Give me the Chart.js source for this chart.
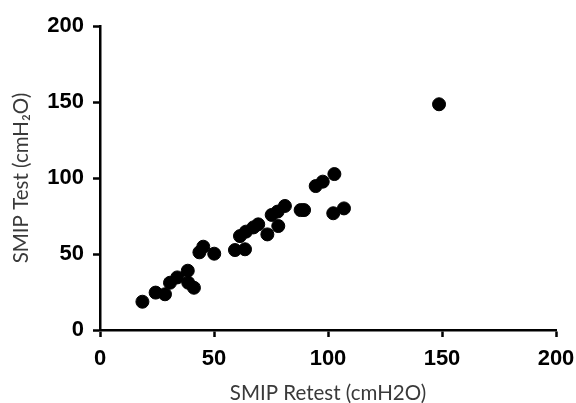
<!DOCTYPE html>
<html lang="en">
<head>
  <meta charset="UTF-8">
  <title>SMIP Test vs Retest</title>
  <script src="https://cdn.jsdelivr.net/npm/chart.js"></script>
  <style>
    html, body { margin: 0; padding: 0; background: #fff; }
    #wrap { width: 576px; height: 403px; }
  </style>
</head>
<body>
  <div id="wrap"><canvas id="smipChart" width="576" height="403"></canvas></div>
  <script>
    // values (cmH2O)
    const retestValues = [18.6, 24.4, 28.5, 30.7, 33.9, 38.5, 38.7, 41.2, 43.6, 45.3,
                          50.1, 59.2, 63.6, 61.4, 64.0, 67.3, 69.4, 73.4, 75.3, 77.9,
                          78.2, 81.1, 88.0, 89.5, 94.6, 97.7, 102.8, 102.3, 107.0, 148.7];
    const testValues   = [18.6, 24.6, 23.5, 31.1, 34.6, 39.0, 31.1, 27.8, 51.1, 54.8,
                          50.2, 52.6, 53.1, 61.8, 64.7, 67.5, 69.5, 62.9, 75.7, 77.9,
                          68.4, 81.6, 78.9, 78.9, 94.7, 97.6, 102.6, 76.8, 80.0, 148.5];
    const tickValues = [0, 50, 100, 150, 200];

    const points = retestValues.map((x, i) => ({ x: x, y: testValues[i] }));

    const axisStyle = {
      grid: { display: true, drawOnChartArea: false, drawTicks: true, tickLength: 7, tickWidth: 2.5, tickColor: '#000' },
      border: { display: true, color: '#000', width: 2.5 },
      ticks: {
        color: '#000',
        font: { family: 'Liberation Sans', size: 22, weight: 'bold' },
        autoSkip: false,
        padding: 9
      }
    };
    const titleFont = { family: 'Lato', size: 20.5, lineHeight: 0.9 };

    // fixed axis sizes so the plot box sits where it does in the picture
    function fixSize(s, w, h) {
      if (w) s.width = w;
      if (h) s.height = h;
      s.paddingLeft = 0; s.paddingRight = 0; s.paddingTop = 0; s.paddingBottom = 0;
    }

    const ctx = document.getElementById('smipChart').getContext('2d');
    new Chart(ctx, {
      type: 'scatter',
      data: {
        datasets: [{
          label: 'SMIP',
          data: points,
          backgroundColor: '#000',
          borderColor: '#000',
          pointRadius: 6.5,
          pointHoverRadius: 6.5
        }]
      },
      options: {
        responsive: false,
        animation: false,
        layout: { padding: { left: 0, top: 26, right: 20, bottom: 0 } },
        plugins: { legend: { display: false }, tooltip: { enabled: false } },
        scales: {
          x: {
            ...axisStyle,
            min: 0, max: 200,
            afterBuildTicks: s => { s.ticks = tickValues.map(v => ({ value: v })); },
            afterFit: s => fixSize(s, 0, 73),
            title: {
              display: true, text: 'SMIP Retest (cmH2O)', color: '#3a3a3a',
              font: titleFont, padding: { top: 0, bottom: 0 }
            }
          },
          y: {
            ...axisStyle,
            min: 0, max: 200,
            afterBuildTicks: s => { s.ticks = tickValues.map(v => ({ value: v })); },
            afterFit: s => fixSize(s, 100, 0),
            title: {
              display: true, text: 'SMIP Test (cmH\u2082O)', color: '#3a3a3a',
              font: titleFont, padding: { top: 12, bottom: 0 }
            }
          }
        }
      }
    });
  </script>
</body>
</html>
